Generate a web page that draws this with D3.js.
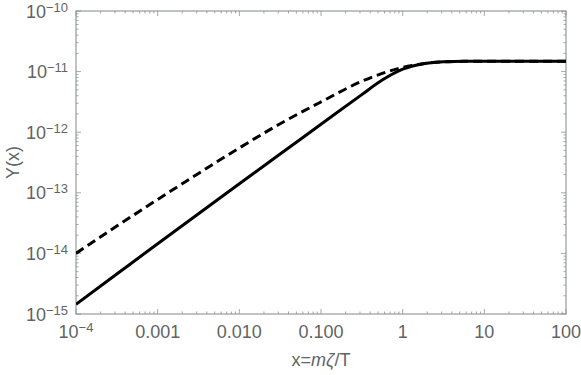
<!DOCTYPE html>
<html><head><meta charset="utf-8">
<script src="https://cdn.jsdelivr.net/npm/d3@7"></script>
<style>
html,body{margin:0;padding:0;background:#fff;}
svg{display:block;}
</style></head>
<body>
<svg id="c" width="581" height="375"></svg>
<script>
// data
const xValues = [1e-4, 3.16e-4, 1e-3, 3.16e-3, 0.01, 0.0316, 0.1, 0.316, 0.562, 1, 1.78, 3.16, 5.62, 10, 100];
const solidY  = [1.445e-15, 4.57e-15, 1.445e-14, 4.52e-14, 1.41e-13, 4.37e-13, 1.35e-12, 4.17e-12, 7.24e-12, 1.096e-11, 1.35e-11, 1.46e-11, 1.48e-11, 1.48e-11, 1.48e-11];
const dashedY = [1.0e-14, 2.82e-14, 7.76e-14, 2.09e-13, 5.5e-13, 1.38e-12, 3.16e-12, 6.92e-12, 9.33e-12, 1.175e-11, 1.35e-11, 1.445e-11, 1.475e-11, 1.48e-11, 1.48e-11];
const xTicks = [1e-4, 1e-3, 1e-2, 1e-1, 1, 10, 100];
const xTickLabels = ["10^-4", "0.001", "0.010", "0.100", "1", "10", "100"];
const yTicks = [1e-15, 1e-14, 1e-13, 1e-12, 1e-11, 1e-10];
const yTickLabels = ["10^-15", "10^-14", "10^-13", "10^-12", "10^-11", "10^-10"];
const yLabel = "Y(x)";

const FONT = "'Liberation Sans', Arial, sans-serif";
const TXT = "#5f6565";
const L = 76, R = 566, T = 11, B = 314;
const svg = d3.select("#c");
const x = d3.scaleLog().domain([1e-4, 100]).range([L, R]);
const y = d3.scaleLog().domain([1e-15, 1e-10]).range([B, T]);
const frameColor = "#8c9393";

function minors(dom){
  const out=[];
  const lo=Math.round(Math.log10(dom[0])), hi=Math.round(Math.log10(dom[1]));
  for(let e=lo;e<hi;e++) for(let k=2;k<=9;k++) out.push(k*Math.pow(10,e));
  return out;
}
const xMin = minors(x.domain()), yMin = minors(y.domain());

const g = svg.append("g");
function tickSet(scale, vals, len, orient){
  vals.forEach(v=>{
    const p = scale(v);
    if(orient==="bottom") g.append("line").attr("x1",p).attr("x2",p).attr("y1",B).attr("y2",B-len);
    if(orient==="top") g.append("line").attr("x1",p).attr("x2",p).attr("y1",T).attr("y2",T+len);
    if(orient==="left") g.append("line").attr("y1",p).attr("y2",p).attr("x1",L).attr("x2",L+len);
    if(orient==="right") g.append("line").attr("y1",p).attr("y2",p).attr("x1",R).attr("x2",R-len);
  });
}
tickSet(x, xTicks, 5, "bottom"); tickSet(x, xMin, 2.5, "bottom");
tickSet(x, xTicks, 5, "top"); tickSet(x, xMin, 2.5, "top");
tickSet(y, yTicks, 5, "left"); tickSet(y, yMin, 2.5, "left");
tickSet(y, yTicks, 5, "right"); tickSet(y, yMin, 2.5, "right");
g.selectAll("line").attr("stroke", frameColor).attr("stroke-width", 0.8);

svg.append("rect").attr("x",L).attr("y",T).attr("width",R-L).attr("height",B-T)
  .attr("fill","none").attr("stroke",frameColor).attr("stroke-width",1.1);

svg.append("clipPath").attr("id","clip").append("rect").attr("x",L).attr("y",T-3).attr("width",R-L).attr("height",B-T+6);
const line = d3.line().x(d=>x(d[0])).y(d=>y(d[1])).curve(d3.curveMonotoneX);
const solid = xValues.map((v,i)=>[v, solidY[i]]);
const dashed = xValues.map((v,i)=>[v, dashedY[i]]);
svg.append("path").attr("d", line(dashed)).attr("fill","none").attr("stroke","#000")
  .attr("stroke-width",3).attr("stroke-dasharray","9,5").attr("clip-path","url(#clip)");
svg.append("path").attr("d", line(solid)).attr("fill","none").attr("stroke","#000")
  .attr("stroke-width",3).attr("clip-path","url(#clip)");

function powLabel(sel, s){
  const parts = s.split("^");
  sel.append("tspan").text(parts[0]);
  if(parts.length>1){
    sel.append("tspan").attr("dy",-6).attr("font-size",13).text(parts[1].replace("-","\u2212"));
  }
}
function txt(){ return svg.append("text").attr("font-family",FONT).attr("fill",TXT).attr("font-size",18); }
xTicks.forEach((v,i)=>{
  const t = txt().attr("x", x(v)).attr("y", 338).attr("text-anchor","middle");
  powLabel(t, xTickLabels[i]);
});
yTicks.forEach((v,i)=>{
  const t = txt().attr("x", 68).attr("y", y(v)+6.5).attr("text-anchor","end");
  powLabel(t, yTickLabels[i]);
});

const xl = txt().attr("x", (L+R)/2).attr("y", 366).attr("text-anchor","middle");
xl.append("tspan").text("x=");
xl.append("tspan").attr("font-style","italic").text("mζ");
xl.append("tspan").text("/T");
txt().attr("transform",`translate(19,${(T+B)/2}) rotate(-90)`).attr("text-anchor","middle").text(yLabel);
</script>
</body></html>
